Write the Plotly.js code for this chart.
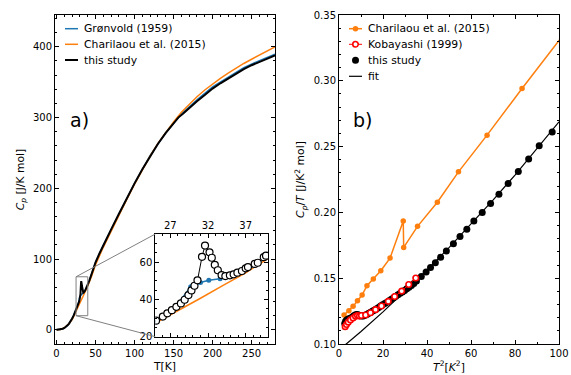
<!DOCTYPE html>
<html><head><meta charset="utf-8">
<script src="https://cdn.plot.ly/plotly-3.0.1.min.js"></script>
<style>body{margin:0;background:#fff}#chart{width:571px;height:375px}</style>
</head><body><div id="chart"></div>
<script>
// ---------- panel a) : Cp vs T ----------
const studyT = [0, 2, 4, 6, 8, 10, 12, 14, 16, 18, 20, 22, 24,
  25.1, 26.0, 26.6, 27.2, 27.8, 28.4, 28.9, 29.4, 29.8, 30.2, 30.6, 31.2, 31.6, 32.2, 32.5, 32.9, 33.3, 33.8,
  34.3, 34.9, 35.4, 35.9, 36.5, 37.0, 37.3, 38.2, 38.6, 39.4, 39.7,
  42, 45, 50, 55, 60, 70, 80, 90, 100, 110, 120, 130, 140, 150, 156, 162, 170, 180, 190, 200,
  210, 220, 230, 240, 250, 260, 270, 280];
const studyCp = [0, 0.2, 0.5, 0.9, 1.6, 2.7, 4.3, 6.3, 8.8, 12, 16, 20.5, 25.5,
  28.6, 30.8, 32.5, 34.2, 36.0, 37.8, 39.8, 42.3, 44.8, 47.3, 50.2, 62.8, 68.8, 65.2, 62.3, 58.5, 55.6, 53.0,
  52.5, 52.9, 53.4, 54.3, 55.2, 56.6, 57.3, 59.0, 59.6, 62.6, 63.4,
  69.5, 79, 95.5, 108, 120, 142, 164, 186, 207, 227, 246, 263, 278.5, 292, 300, 305.5, 313.5, 323, 332, 341,
  348.5, 355.5, 362, 368.5, 374, 379, 383.5, 388];

const gronT = [0, 5, 10, 15, 20, 25, 27.5, 29.7, 31.0, 32.1, 33.6, 35.5, 38, 40, 45, 50, 60, 70, 80, 90, 100,
  120, 140, 160, 180, 200, 220, 240, 260, 280];
const gronCp = [0, 0.6, 2.6, 6.8, 15.6, 28, 34.8, 46.8, 49.0, 50.2, 51.0, 53.6, 58.2, 62.8, 79, 95.5, 120, 142, 164, 186, 207,
  246.5, 278.5, 305, 325, 343.5, 357.5, 370.5, 380.5, 389.5];

const charT = [0, 5, 10, 15, 20, 25, 28, 31, 34, 37, 40, 45, 50, 60, 70, 80, 90, 100, 110, 120, 130, 140, 150,
  160, 170, 180, 190, 200, 210, 220, 230, 240, 250, 260, 270, 280];
const charCp = [0, 0.6, 3.0, 7.5, 14.5, 27.3, 33.8, 40.6, 47.5, 54.2, 62, 76, 92, 117, 140, 162.5, 184.5, 206, 226.5, 246, 263.5, 279.5, 294,
  307.5, 319, 329.5, 339, 347.5, 355.5, 363, 370, 376.5, 382.5, 388.5, 394.5, 400];

// zoom window shown in the inset
const insetT = [25, 40];
const insetCp = [20, 75];

// ---------- panel b) : Cp/T vs T^2 ----------
const charT2 = [2.3, 4.5, 6.4, 8.4, 10.5, 12.7, 15.6, 19.0, 23.2, 29.2, 29.4, 35.7, 44.7, 54.3, 67.3, 83.2, 101.5];
const charCpT = [0.122, 0.1253, 0.1286, 0.1329, 0.1372, 0.1443, 0.1494, 0.1557, 0.1653, 0.1934, 0.1734, 0.1894, 0.2077, 0.2308, 0.2587, 0.2942, 0.3338];

const kobT2 = [2.8, 3.4, 4.2, 5.2, 6.4, 7.5, 8.4, 9.3, 10.2, 12.1, 14.3, 16.6, 19.3, 22.4, 25.3, 28.5, 31.7, 34.9];
const kobCpT = [0.1132, 0.1148, 0.1166, 0.1183, 0.1198, 0.1210, 0.1216, 0.1212, 0.1216, 0.1220, 0.1238, 0.1261, 0.1289, 0.1324, 0.1361, 0.1402, 0.1452, 0.1502];

const studyT2 = [2.6, 3.0, 3.5, 4.0, 4.6, 5.2, 5.9, 6.6, 7.3, 8.0, 8.7, 9.4, 10.2, 11.0, 11.8, 12.6, 13.5, 14.4, 15.3, 16.2,
  17.1, 18.0, 18.9, 19.8, 20.8, 21.8, 22.8, 23.8, 24.8, 25.8, 26.8, 27.8, 28.8, 29.8, 30.8, 31.8, 32.9, 34.0, 35.2,
  37.4, 39.6, 41.6, 43.8, 46.2, 48.8, 52.0, 55.0, 58.1, 61.3, 65.1, 68.9, 72.7, 76.9, 81.5, 86.2, 91.0, 96.9];
const studyCpT = [0.1155, 0.1172, 0.1182, 0.1188, 0.1192, 0.1196, 0.1203, 0.1212, 0.1220, 0.1224, 0.1222, 0.1216, 0.1212, 0.1213, 0.1218, 0.1224, 0.1233, 0.1241, 0.1250, 0.1259,
  0.1268, 0.1278, 0.1288, 0.1298, 0.1308, 0.1318, 0.1329, 0.1340, 0.1351, 0.1363, 0.1374, 0.1385, 0.1396, 0.1407, 0.1419, 0.1431, 0.1445, 0.1460, 0.1478,
  0.1512, 0.1548, 0.1582, 0.1617, 0.1660, 0.1707, 0.1761, 0.1816, 0.1872, 0.1934, 0.2000, 0.2067, 0.2138, 0.2220, 0.2311, 0.2406, 0.2506, 0.2610];

const fitT2 = [2, 10, 20, 30, 40, 50, 60, 70, 80, 90, 100];
const fitCpT = [0.0982, 0.1095, 0.1244, 0.1400, 0.1562, 0.1732, 0.1909, 0.2093, 0.2284, 0.2483, 0.2688];

// ---------- styling ----------
const BLUE = '#1f77b4', ORANGE = '#ff7f0e', RED = '#ff0000', GRAY = '#808080';
const FONT = 'DejaVu Sans, sans-serif';
const W = 571, H = 375, M = {l: 55, r: 12, t: 15, b: 31};
const PW = W - M.l - M.r, PH = H - M.t - M.b;

const xRangeA = [-2, 280], yRangeA = [-20, 445];
const domA = [0, 0.4365], domB = [0.5635, 1];
const insetDomX = [0.199, 0.4232], insetDomY = [0.0222, 0.3343];

const traces = [
  {x: gronT, y: gronCp, xaxis: 'x', yaxis: 'y', mode: 'lines', name: 'Grønvold (1959)',
   line: {color: BLUE, width: 1.5}},
  {x: charT, y: charCp, xaxis: 'x', yaxis: 'y', mode: 'lines', name: 'Charilaou et al. (2015)',
   line: {color: ORANGE, width: 1.5}},
  {x: studyT, y: studyCp, xaxis: 'x', yaxis: 'y', mode: 'lines', name: 'this study',
   line: {color: '#000', width: 2}},
  // inset
  {x: charT, y: charCp, xaxis: 'x3', yaxis: 'y3', mode: 'lines', name: 'Charilaou et al. (2015)',
   line: {color: ORANGE, width: 1.5}},
  {x: gronT, y: gronCp, xaxis: 'x3', yaxis: 'y3', mode: 'lines+markers', name: 'Grønvold (1959)',
   line: {color: BLUE, width: 1.5}, marker: {color: BLUE, size: 5}},
  {x: studyT, y: studyCp, xaxis: 'x3', yaxis: 'y3', mode: 'lines+markers', name: 'this study',
   line: {color: '#000', width: 1}, marker: {symbol: 'circle', color: '#fff', size: 7, line: {color: '#000', width: 1.2}}},
  // panel b
  {x: charT2, y: charCpT, xaxis: 'x2', yaxis: 'y2', mode: 'lines+markers', name: 'Charilaou et al. (2015)',
   line: {color: ORANGE, width: 1.5}, marker: {color: ORANGE, size: 5.5}},
  {x: studyT2, y: studyCpT, xaxis: 'x2', yaxis: 'y2', mode: 'markers', name: 'this study',
   marker: {color: '#000', size: 7}},
  {x: fitT2, y: fitCpT, xaxis: 'x2', yaxis: 'y2', mode: 'lines', name: 'fit',
   line: {color: '#000', width: 1.2}},
  {x: kobT2, y: kobCpT, xaxis: 'x2', yaxis: 'y2', mode: 'lines+markers', name: 'Kobayashi (1999)',
   line: {color: RED, width: 1},
   marker: {symbol: 'circle', color: '#fff', size: 5.5, line: {color: RED, width: 1.6}}}
];

function ax(extra) {
  return Object.assign({
    showline: true, linecolor: '#000', linewidth: 1, mirror: 'allticks',
    ticks: 'inside', ticklen: 4, tickwidth: 1, tickcolor: '#000',
    showgrid: false, zeroline: false, tickfont: {size: 10, color: '#000'}
  }, extra);
}
const minor = (dtick, tick0) => ({ticks: 'inside', ticklen: 2, tickwidth: 1, tickcolor: '#000', dtick: dtick, tick0: tick0});

// inset corner positions expressed in main-axis data units
const toX = p => xRangeA[0] + (p - domA[0]) / (domA[1] - domA[0]) * (xRangeA[1] - xRangeA[0]);
const toY = p => yRangeA[0] + p * (yRangeA[1] - yRangeA[0]);
// pixel -> paper helpers for the hand-built legends
const px2x = px => (px - M.l) / PW;
const py2y = py => (H - M.b - py) / PH;

const shapes = [
  {type: 'rect', xref: 'x', yref: 'y', x0: insetT[0], x1: insetT[1], y0: insetCp[0], y1: insetCp[1],
   line: {color: GRAY, width: 1}},
  {type: 'line', xref: 'x', yref: 'y', x0: insetT[0], y0: insetCp[1], x1: toX(insetDomX[0]), y1: toY(insetDomY[1]),
   line: {color: GRAY, width: 1}},
  {type: 'line', xref: 'x', yref: 'y', x0: insetT[0], y0: insetCp[0], x1: toX(insetDomX[0]), y1: toY(insetDomY[0]),
   line: {color: GRAY, width: 1}}
];
const annotations = [
  {text: 'a)', xref: 'paper', yref: 'paper', x: px2x(79), y: py2y(120), xanchor: 'center', yanchor: 'middle',
   showarrow: false, font: {size: 19}},
  {text: 'b)', xref: 'paper', yref: 'paper', x: px2x(362), y: py2y(120), xanchor: 'center', yanchor: 'middle',
   showarrow: false, font: {size: 19}}
];

// legend entries built from the trace styles
function legendEntry(tr, lx0, lx1, tx, py, withLine, withMarker) {
  if (withLine) shapes.push({type: 'line', xref: 'paper', yref: 'paper', x0: px2x(lx0), x1: px2x(lx1),
    y0: py2y(py), y1: py2y(py), line: {color: tr.line.color, width: tr.line.width}});
  if (withMarker) {
    const r = tr.marker.size / 2;
    shapes.push({type: 'circle', xref: 'paper', yref: 'paper', xsizemode: 'pixel', ysizemode: 'pixel',
      xanchor: px2x((lx0 + lx1) / 2), yanchor: py2y(py), x0: -r, x1: r, y0: -r, y1: r,
      fillcolor: tr.marker.color,
      line: {color: tr.marker.line ? tr.marker.line.color : tr.marker.color, width: tr.marker.line ? tr.marker.line.width : 0}});
  }
  annotations.push({text: tr.name, xref: 'paper', yref: 'paper', x: px2x(tx), y: py2y(py),
    xanchor: 'left', yanchor: 'middle', showarrow: false, font: {size: 10.8}});
}
const rowsA = [28.7, 44.3, 60];
[traces[0], traces[1], traces[2]].forEach((tr, i) => legendEntry(tr, 65, 78, 82, rowsA[i], true, false));
const rowsB = [28.7, 44.3, 60.3, 76.3];
legendEntry(traces[6], 349, 362, 366, rowsB[0], true, true);
legendEntry(traces[9], 349, 362, 366, rowsB[1], true, true);
legendEntry(traces[7], 349, 362, 366, rowsB[2], false, true);
legendEntry(traces[8], 349, 362, 366, rowsB[3], true, false);

const layout = {
  width: W, height: H, margin: M,
  paper_bgcolor: '#fff', plot_bgcolor: '#fff',
  font: {family: FONT, size: 10, color: '#000'},
  showlegend: false,
  xaxis: ax({domain: domA, anchor: 'y', range: xRangeA, tick0: 0, dtick: 50, minor: minor(10, 0),
    title: {text: 'T[K]', font: {size: 10.8}, standoff: 4}}),
  yaxis: ax({domain: [0, 1], anchor: 'x', range: yRangeA, tick0: 0, dtick: 100, minor: minor(20, 0),
    title: {text: '<i>C<sub>p</sub></i> [J/K mol]', font: {size: 10.8}, standoff: 6}}),
  xaxis2: ax({domain: domB, anchor: 'y2', range: [0, 100], tick0: 0, dtick: 20, minor: minor(10, 0),
    title: {text: '<i>T</i><sup>2</sup>[<i>K</i><sup>2</sup>]', font: {size: 10.8}, standoff: 4}}),
  yaxis2: ax({domain: [0, 1], anchor: 'x2', range: [0.10, 0.35], tick0: 0.1, dtick: 0.05, tickformat: '.2f',
    minor: minor(0.01, 0.1),
    title: {text: '<i>C<sub>p</sub></i>/<i>T</i> [J/K<sup>2</sup> mol]', font: {size: 10.8}, standoff: 6}}),
  xaxis3: ax({domain: insetDomX, anchor: 'y3', side: 'top', range: insetT, tick0: 27, dtick: 5, minor: minor(1, 27)}),
  yaxis3: ax({domain: insetDomY, anchor: 'x3', range: insetCp, tick0: 20, dtick: 20, minor: minor(5, 20)}),
  shapes: shapes,
  annotations: annotations
};

Plotly.newPlot('chart', traces, layout, {displayModeBar: false, staticPlot: true});
</script>
</body></html>
